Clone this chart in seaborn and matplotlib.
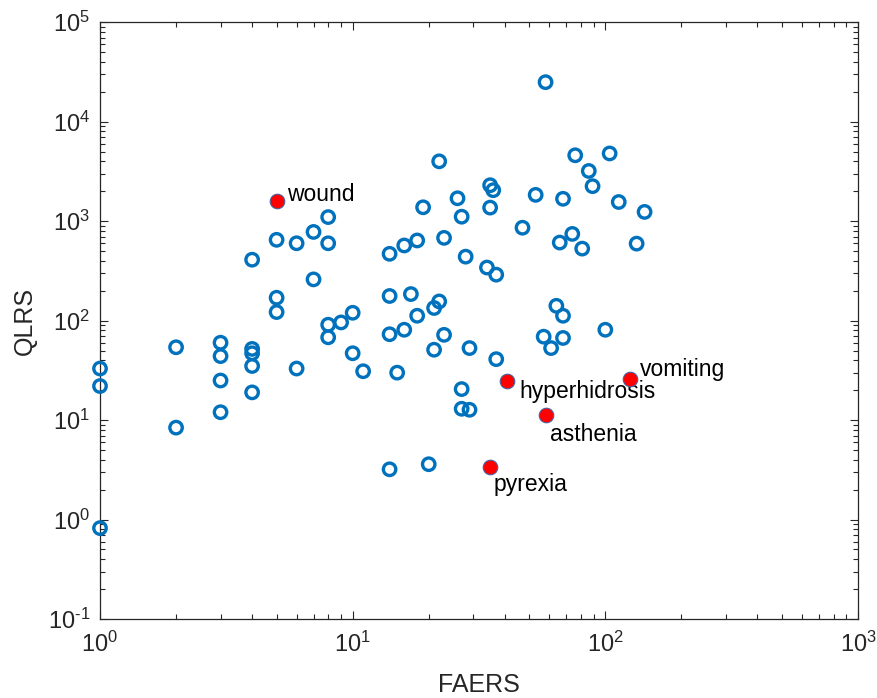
import numpy as np
import pandas as pd
import matplotlib
matplotlib.use("Agg")
import matplotlib.pyplot as plt
import matplotlib.ticker as mticker
import seaborn as sns

# ---- data ----
faers = [1, 1, 1,
         2, 2,
         3, 3, 3, 3,
         4, 4, 4, 4, 4,
         5, 5, 5,
         6, 6,
         7, 7,
         8, 8, 8, 8,
         9,
         10, 10,
         11,
         14, 14, 14, 14,
         15,
         16, 16,
         17,
         18, 18,
         19,
         20,
         21, 21,
         22, 22,
         23, 23,
         26,
         27, 27, 27,
         28,
         29, 29,
         34,
         35, 35,
         36,
         37, 37,
         47, 53, 57, 58, 61, 64, 66,
         68, 68, 68,
         74, 76, 81, 86, 89, 100, 104, 113, 133, 143]
qlrs = [33, 22, 0.82,
        54, 8.4,
        60, 44, 25, 12,
        410, 52, 47, 35, 19,
        650, 170, 122,
        600, 33,
        780, 260,
        1100, 600, 91, 68,
        96,
        120, 47,
        31,
        470, 177, 73, 3.2,
        30,
        570, 81,
        185,
        640, 112,
        1380,
        3.6,
        134, 51,
        4000, 156,
        680, 72,
        1700,
        1110, 20.5, 13,
        440,
        53, 12.7,
        342,
        2300, 1370,
        2050,
        290, 41,
        860, 1840, 69, 25000, 53, 141, 610,
        1680, 112, 67,
        745, 4600, 530, 3200, 2250, 81, 4800, 1560, 595, 1240]

hl_names = ["wound", "hyperhidrosis", "vomiting", "asthenia", "pyrexia"]
hl_faers = [5, 41, 125, 58, 35]
hl_qlrs = [1600, 25, 26, 11.3, 3.4]
# label offsets (points) relative to the highlighted marker
hl_dx = [7.2, 8.5, 7.2, 2.9, 2.4]
hl_dy = [0.0, -12.7, 1.9, -19.2, -17.3]

df = pd.DataFrame({"FAERS": faers, "QLRS": qlrs})
df_hl = pd.DataFrame({"FAERS": hl_faers, "QLRS": hl_qlrs, "name": hl_names})

sns.set_theme(style="white")
plt.rcParams["font.family"] = ["Liberation Sans", "DejaVu Sans"]
plt.rcParams["mathtext.fontset"] = "custom"
plt.rcParams["mathtext.rm"] = "Liberation Sans"
plt.rcParams["mathtext.it"] = "Liberation Sans:italic"
plt.rcParams["mathtext.default"] = "regular"
plt.rcParams["axes.unicode_minus"] = False

blue = "#0072BD"
dark = "#262626"

fig = plt.figure(figsize=(8.77, 6.98), dpi=100)
ax = fig.add_axes([100 / 877, 1 - 619 / 698, 758 / 877, (619 - 22.3) / 698])
ax.set_xscale("log")
ax.set_yscale("log")

sns.scatterplot(data=df, x="FAERS", y="QLRS", ax=ax, color=blue,
                facecolor="none", edgecolor=blue, linewidth=2.4, s=80,
                marker="o", zorder=3, clip_on=False)
sns.scatterplot(data=df_hl, x="FAERS", y="QLRS", ax=ax, color="red",
                facecolor="red", edgecolor="#4a5fa0", linewidth=0.8, s=110,
                marker="o", zorder=4, clip_on=False)

for name, x, y, dx, dy in zip(hl_names, hl_faers, hl_qlrs, hl_dx, hl_dy):
    ax.annotate(name, (x, y), xytext=(dx, dy), textcoords="offset points",
                ha="left", va="baseline", fontsize=16.5, color="black")

ax.set_xlim(1, 1000)
ax.set_ylim(0.1, 1e5)


def dec_fmt(v, _pos):
    e = int(round(np.log10(v)))
    if e < 0:
        return r"$10^{\text{-}%d}$" % (-e)
    return r"$10^{%d}$" % e


ax.xaxis.set_major_locator(mticker.LogLocator(base=10, numticks=10))
ax.yaxis.set_major_locator(mticker.LogLocator(base=10, numticks=10))
ax.xaxis.set_major_formatter(mticker.FuncFormatter(dec_fmt))
ax.yaxis.set_major_formatter(mticker.FuncFormatter(dec_fmt))
ax.xaxis.set_minor_locator(mticker.LogLocator(base=10, subs=np.arange(2, 10), numticks=20))
ax.yaxis.set_minor_locator(mticker.LogLocator(base=10, subs=np.arange(2, 10), numticks=20))
ax.xaxis.set_minor_formatter(mticker.NullFormatter())
ax.yaxis.set_minor_formatter(mticker.NullFormatter())

ax.tick_params(which="both", direction="in", top=True, right=True,
               bottom=True, left=True, color=dark, width=0.8)
ax.tick_params(which="major", length=6, labelsize=17, labelcolor=dark)
ax.tick_params(which="minor", length=3.5)
ax.tick_params(axis="x", which="major", pad=9)
ax.tick_params(axis="y", which="major", pad=7)

for sp in ax.spines.values():
    sp.set_visible(True)
    sp.set_color(dark)
    sp.set_linewidth(0.9)

ax.set_xlabel("FAERS", fontsize=18, color=dark)
ax.set_ylabel("QLRS", fontsize=18, color=dark)
ax.xaxis.set_label_coords(0.5, -0.09)
ax.yaxis.set_label_coords(-0.083, 0.5)

fig.savefig("out.png", dpi=100, facecolor="white")
